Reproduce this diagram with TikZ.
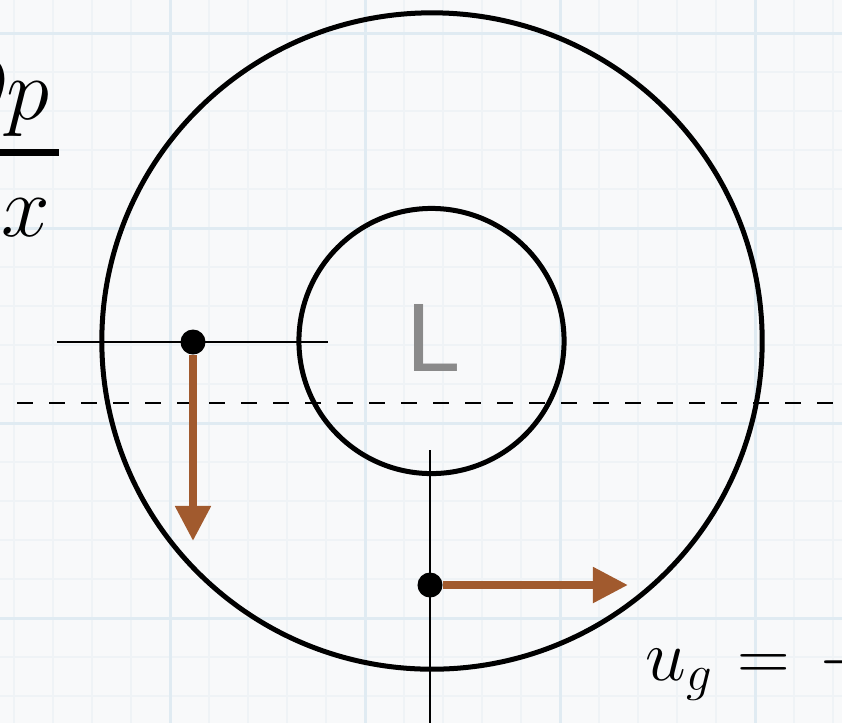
\documentclass[tikz,border=0pt]{standalone}
\usepackage{fontspec}
\newfontfamily\lowfont{Liberation Sans}
\usetikzlibrary{arrows.meta, shapes.geometric}
\definecolor{gbg}{HTML}{F8F9FA}
\definecolor{gmajor}{HTML}{E0EBF2}
\definecolor{gminor}{HTML}{EFF3F6}
\definecolor{sbrown}{HTML}{A15A2E}
\definecolor{sgray}{HTML}{8A8A8A}
\tikzset{
  ring/.style={ellipse, draw=black, line width=0.05cm, inner sep=0},
  dot/.style={circle, fill=black, minimum size=0.25cm, inner sep=0},
  guide/.style={draw=black, line width=0.022cm},
  flow/.style={draw=sbrown, line width=0.08cm, -{Triangle[length=0.35cm, width=0.34cm]}},
  eqline/.style={draw=black, line width=0.025cm, dash pattern=on 0.155cm off 0.165cm},
  gridmajor/.style={draw=gmajor, line width=0.03cm},
  gridminor/.style={draw=gminor, line width=0.012cm},
  formula/.style={inner sep=0, font=\fontsize{30}{36}\selectfont},
  lowlabel/.style={inner sep=0, text=sgray, font=\lowfont\fontsize{27.7}{30}\selectfont}
}

\begin{document}
\begin{tikzpicture}[x=0.01cm, y=-0.01cm]
  \useasboundingbox (0,0) rectangle (842,723);
  \clip (0,0) rectangle (842,723);
  \fill[gbg] (0,0) rectangle (842,723);
  % background grid
  \foreach \k in {0,...,21} {
    \draw[gridminor] (14+\k*39,0) -- (14+\k*39,723);
  }
  \foreach \k in {-1,...,18} {
    \draw[gridminor] (0,33+\k*39) -- (842,33+\k*39);
  }
  \foreach \gx in {-25,170,365,560,755} \draw[gridmajor] (\gx,0) -- (\gx,723);
  \foreach \gy in {33,228,423,618} \draw[gridmajor] (0,\gy) -- (842,\gy);

  % low centre
  \node[ring, minimum width=6.6cm, minimum height=6.56cm] (outer) at (432,341) {};
  \node[ring, minimum width=2.65cm, minimum height=2.65cm] (inner) at (431.5,341) {};
  \node[lowlabel] (low) at (434,338) {L};

  % equator
  \coordinate (eqA) at (17,403);
  \coordinate (eqB) at (850,403);
  \draw[eqline] (eqA) -- (eqB);

  % west point
  \coordinate (westA) at (57,342);
  \coordinate (westB) at (328,342);
  \draw[guide] (westA) -- (westB);
  \node[dot] (westdot) at (193,342) {};
  \coordinate (westtip) at (193,541);
  \draw[flow] (westdot) -- (westtip);

  % south point
  \coordinate (southA) at (430,450);
  \coordinate (southB) at (430,723);
  \draw[guide] (southA) -- (southB);
  \node[dot] (southdot) at (430,585) {};
  \coordinate (southtip) at (628,585);
  \draw[flow] (southdot) -- (southtip);

  % formulas
  \node[formula, anchor=base east] (fracnum) at (50,119) {$\partial p$};
  \node[fill=black, inner sep=0, minimum width=1.3cm, minimum height=0.07cm, anchor=east] (fracbar) at (60,152) {};
  \node[formula, anchor=base east] (fracden) at (51,236) {$\partial x$};
  \node[inner sep=0, anchor=base west, font=\fontsize{21}{26}\selectfont] (ugeq) at (645,680)
    {$u_g\mkern6mu{=}\mkern7mu{-}$};
\end{tikzpicture}
\end{document}
